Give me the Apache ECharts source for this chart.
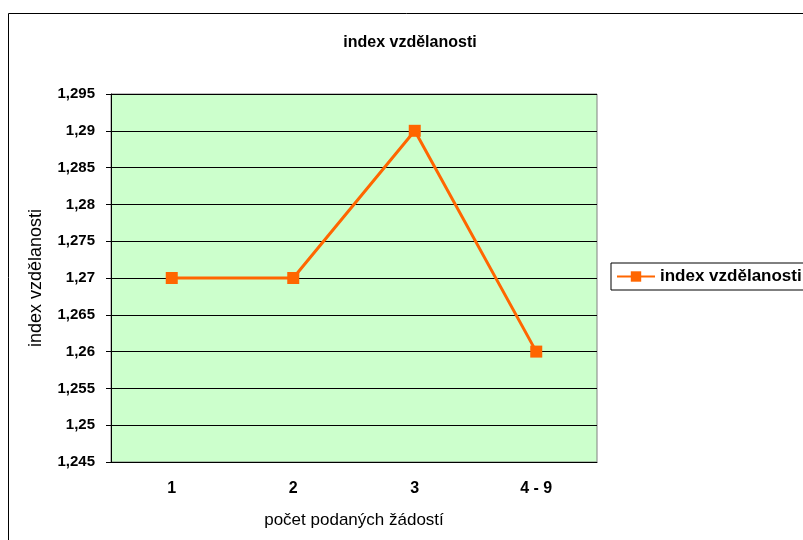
<!DOCTYPE html>
<html>
<head>
<meta charset="utf-8">
<script src="https://cdn.jsdelivr.net/npm/echarts@6/dist/echarts.min.js"></script>
<style>
  html, body { margin: 0; padding: 0; background: #fff; }
  #chart { width: 803px; height: 540px; }
</style>
</head>
<body>
<div id="chart"></div>
<script>
// data
const categories = ['1', '2', '3', '4 - 9']
const indexValues = [1.27, 1.27, 1.29, 1.26]
const yMin = 1.245
const yMax = 1.295
const yStep = 0.005

const font = 'Liberation Sans, Arial, sans-serif'

const chart = echarts.init(document.getElementById('chart'))
chart.setOption({
  animation: false,
  textStyle: { fontFamily: font },
  title: {
    text: 'index vzdělanosti',
    left: 405,
    top: 30,
    textAlign: 'center',
    textStyle: { fontSize: 16, fontWeight: 'bold', color: '#000', fontFamily: font }
  },
  graphic: [{
    type: 'rect',
    shape: { x: 8.5, y: 13.5, width: 1000, height: 1000 },
    style: { fill: 'none', stroke: '#000', lineWidth: 1 },
    silent: true
  }],
  legend: {
    left: 611,
    top: 263,
    orient: 'vertical',
    padding: [5, 8, 5, 5],
    borderColor: '#000',
    borderWidth: 1,
    itemWidth: 38,
    itemHeight: 13,
    itemGap: 4,
    textStyle: { fontSize: 17, fontWeight: 'bold', color: '#000', fontFamily: font },
    data: ['index vzdělanosti']
  },
  grid: {
    left: 111,
    top: 94,
    right: 206,
    bottom: 78,
    show: true,
    backgroundColor: '#CCFFCC',
    borderColor: '#808080',
    borderWidth: 1
  },
  xAxis: {
    type: 'category',
    data: categories,
    boundaryGap: true,
    name: 'počet podaných žádostí',
    nameLocation: 'middle',
    nameGap: 50,
    nameTextStyle: { fontSize: 17, color: '#000', fontFamily: font },
    axisLine: { lineStyle: { color: '#000', width: 1 } },
    axisTick: { length: 5, lineStyle: { color: '#000' } },
    axisLabel: { fontSize: 16, fontWeight: 'bold', color: '#000', margin: 19, fontFamily: font },
    splitLine: { show: false }
  },
  yAxis: {
    type: 'value',
    min: yMin,
    max: yMax,
    interval: yStep,
    name: 'index vzdělanosti',
    nameLocation: 'middle',
    nameGap: 66,
    nameTextStyle: { fontSize: 18, color: '#000', fontFamily: font },
    axisLine: { show: true, lineStyle: { color: '#000', width: 1 } },
    axisTick: { show: true, length: 5, lineStyle: { color: '#000' } },
    axisLabel: {
      fontSize: 15,
      fontWeight: 'bold',
      color: '#000',
      margin: 16,
      fontFamily: font,
      formatter: v => String(parseFloat(v.toFixed(3))).replace('.', ',')
    },
    splitLine: { show: true, lineStyle: { color: '#000', width: 1 } }
  },
  series: [{
    name: 'index vzdělanosti',
    type: 'line',
    data: indexValues,
    symbol: 'rect',
    symbolSize: 12,
    lineStyle: { color: '#FF6600', width: 3 },
    itemStyle: { color: '#FF6600' }
  }]
})
</script>
</body>
</html>
